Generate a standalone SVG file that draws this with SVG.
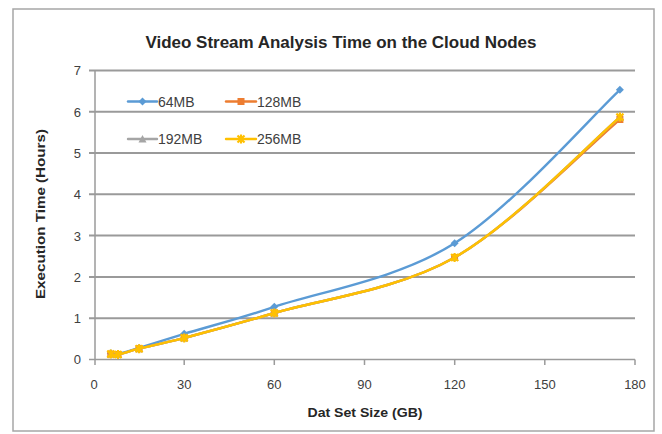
<svg xmlns="http://www.w3.org/2000/svg" width="662" height="434" viewBox="0 0 662 434">
<style>
.grid{stroke:#9a9a9a;stroke-width:2;fill:none}
.axis{stroke:#9a9a9a;stroke-width:1.5;fill:none}
.lbl{font-family:"Liberation Sans",Arial,sans-serif;font-size:13px;fill:#404040}
.ttl{font-family:"Liberation Sans",Arial,sans-serif;font-weight:bold;fill:#262626}
.leg{font-family:"Liberation Sans",Arial,sans-serif;font-size:14px;fill:#404040}
.s{fill:none;stroke-width:2.4;stroke-linejoin:round;stroke-linecap:round}
</style>
<defs>
<path id="dia" d="M0,-4 L4,0 L0,4 L-4,0 Z" fill="#5B9BD5"/>
<rect id="sq" x="-3.5" y="-3.5" width="7" height="7" fill="#ED7D31"/>
<path id="tri" d="M0,-4 L4,3.5 L-4,3.5 Z" fill="#A5A5A5"/>
<path id="ast" d="M-3.5,-3.5 L3.5,3.5 M3.5,-3.5 L-3.5,3.5 M0,-4.5 L0,4.5" stroke="#FFC000" stroke-width="2.2" fill="none"/>
</defs>
<rect x="0" y="0" width="662" height="434" fill="#fff"/>
<rect id="frame" x="13" y="9" width="641" height="422" fill="#fff" stroke="#a6a6a6" stroke-width="1.5"/>
<text id="title" class="ttl" x="341" y="48" font-size="16" text-anchor="middle" textLength="391" lengthAdjust="spacingAndGlyphs">Video Stream Analysis Time on the Cloud Nodes</text>
<g id="gridlines">
<line class="grid" x1="89" y1="70.4" x2="635" y2="70.4"/>
<line class="grid" x1="89" y1="111.7" x2="635" y2="111.7"/>
<line class="grid" x1="89" y1="153" x2="635" y2="153"/>
<line class="grid" x1="89" y1="194.3" x2="635" y2="194.3"/>
<line class="grid" x1="89" y1="235.6" x2="635" y2="235.6"/>
<line class="grid" x1="89" y1="276.9" x2="635" y2="276.9"/>
<line class="grid" x1="89" y1="318.2" x2="635" y2="318.2"/>
</g>
<g id="axes">
<line class="axis" x1="95" y1="70" x2="95" y2="365"/>
<line class="axis" x1="89" y1="359.5" x2="635" y2="359.5"/>
<path class="axis" d="M184.2,359.5V365 M274.3,359.5V365 M364.5,359.5V365 M454.7,359.5V365 M544.8,359.5V365 M635,359.5V365"/>
</g>
<g id="y-labels" class="lbl" text-anchor="end">
<text x="81" y="364">0</text>
<text x="81" y="323">1</text>
<text x="81" y="282">2</text>
<text x="81" y="240.5">3</text>
<text x="81" y="199">4</text>
<text x="81" y="158">5</text>
<text x="81" y="116.5">6</text>
<text x="81" y="75">7</text>
</g>
<g id="x-labels" class="lbl" text-anchor="middle">
<text x="94" y="389">0</text>
<text x="184.2" y="389">30</text>
<text x="274.3" y="389">60</text>
<text x="364.5" y="389">90</text>
<text x="454.7" y="389">120</text>
<text x="544.8" y="389">150</text>
<text x="635" y="389">180</text>
</g>
<text id="x-title" class="ttl" x="365" y="417" font-size="13" text-anchor="middle" textLength="115" lengthAdjust="spacingAndGlyphs">Dat Set Size (GB)</text>
<text id="y-title" class="ttl" transform="translate(45,214) rotate(-90)" font-size="13" text-anchor="middle" textLength="170" lengthAdjust="spacingAndGlyphs">Execution Time (Hours)</text>
<g id="series">
<g id="s64">
<path class="s" stroke="#5B9BD5" d="M110.8,353.3 C112.0,353.4 113.3,355.0 118.0,354.1 C122.7,353.2 128.1,351.3 139.1,347.9 C150.1,344.5 161.7,340.7 184.2,333.8 C206.7,327.0 229.2,321.9 274.3,306.8 C319.4,291.7 397.0,279.5 454.6,243.3 C512.2,207.1 592.4,115.4 619.9,89.8"/>
<use href="#dia" x="110.8" y="353.3"/><use href="#dia" x="118" y="354.1"/><use href="#dia" x="139.1" y="347.9"/><use href="#dia" x="184.2" y="333.8"/><use href="#dia" x="274.3" y="306.8"/><use href="#dia" x="454.6" y="243.3"/><use href="#dia" x="619.9" y="89.8"/>
</g>
<g id="s128">
<path class="s" stroke="#ED7D31" d="M110.8,354.1 C112.0,354.2 113.3,355.4 118.0,354.5 C122.7,353.6 128.1,351.5 139.1,348.7 C150.1,345.9 161.7,343.9 184.2,337.9 C206.7,332.0 229.2,326.4 274.3,313.0 C319.4,299.6 397.0,290.2 454.6,257.5 C512.2,224.9 592.4,142 619.9,119.5"/>
<use href="#sq" x="110.8" y="354.1"/><use href="#sq" x="118" y="354.5"/><use href="#sq" x="139.1" y="348.7"/><use href="#sq" x="184.2" y="337.9"/><use href="#sq" x="274.3" y="313"/><use href="#sq" x="454.6" y="257.5"/><use href="#sq" x="619.9" y="119.5"/>
</g>
<g id="s192">
<path class="s" stroke="#A5A5A5" d="M110.8,354.1 C112.0,354.2 113.3,355.4 118.0,354.5 C122.7,353.6 128.1,351.5 139.1,348.7 C150.1,345.9 161.7,343.9 184.2,337.9 C206.7,332.0 229.2,326.4 274.3,313.0 C319.4,299.6 397.0,290.2 454.6,257.5 C512.2,224.9 592.4,140.5 619.9,117.1"/>
<use href="#tri" x="110.8" y="354.1"/><use href="#tri" x="118" y="354.5"/><use href="#tri" x="139.1" y="348.7"/><use href="#tri" x="184.2" y="337.9"/><use href="#tri" x="274.3" y="313"/><use href="#tri" x="454.6" y="257.5"/><use href="#tri" x="619.9" y="117.1"/>
</g>
<g id="s256">
<path class="s" stroke="#FFC000" d="M110.8,354.1 C112.0,354.2 113.3,355.4 118.0,354.5 C122.7,353.6 128.1,351.5 139.1,348.7 C150.1,345.9 161.7,343.9 184.2,337.9 C206.7,332.0 229.2,326.4 274.3,313.0 C319.4,299.6 397.0,290.2 454.6,257.5 C512.2,224.9 592.4,140.5 619.9,117.1"/>
<use href="#ast" x="110.8" y="354.1"/><use href="#ast" x="118" y="354.5"/><use href="#ast" x="139.1" y="348.7"/><use href="#ast" x="184.2" y="337.9"/><use href="#ast" x="274.3" y="313"/><use href="#ast" x="454.6" y="257.5"/><use href="#ast" x="619.9" y="117.1"/>
</g>
</g>
<g id="legend">
<line class="s" stroke="#5B9BD5" x1="128" y1="101.5" x2="157" y2="101.5"/><use href="#dia" x="142.5" y="101.5"/>
<text class="leg" x="158" y="106.5">64MB</text>
<line class="s" stroke="#ED7D31" x1="226" y1="101.5" x2="256" y2="101.5"/><use href="#sq" x="241" y="101.5"/>
<text class="leg" x="257" y="106.5">128MB</text>
<line class="s" stroke="#A5A5A5" x1="128" y1="139" x2="157" y2="139"/><use href="#tri" x="142.5" y="139"/>
<text class="leg" x="158" y="144">192MB</text>
<line class="s" stroke="#FFC000" x1="226" y1="139" x2="256" y2="139"/><use href="#ast" x="241" y="139"/>
<text class="leg" x="257" y="144">256MB</text>
</g>
</svg>
